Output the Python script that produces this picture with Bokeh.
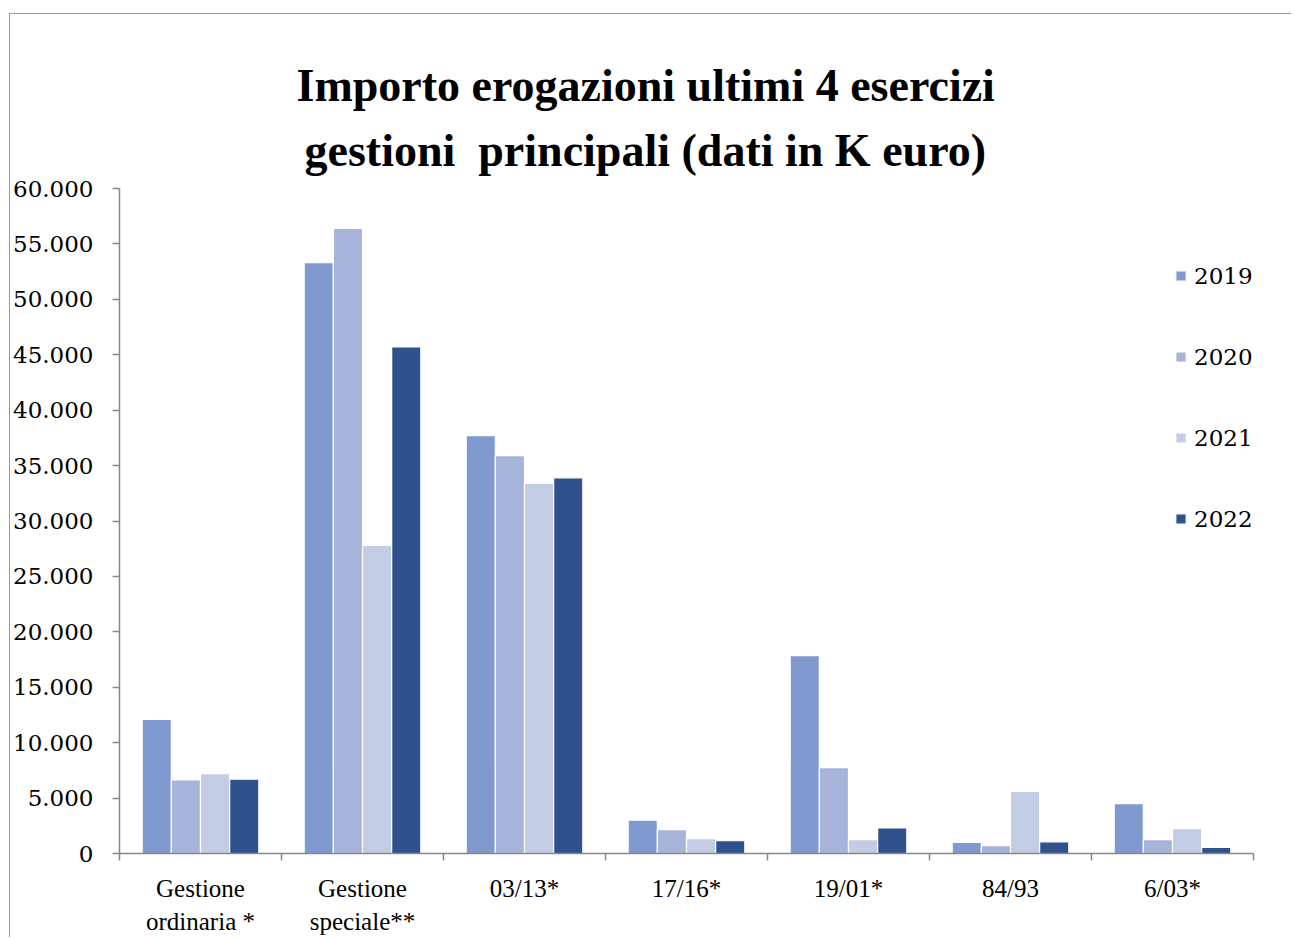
from bokeh.plotting import figure
from bokeh.models import FixedTicker, Legend, LegendItem, Title, ColumnDataSource
from bokeh.embed import file_html
from bokeh.resources import INLINE

categories = ["Gestione\nordinaria *", "Gestione\nspeciale**", "03/13*", "17/16*", "19/01*", "84/93", "6/03*"]
years = ["2019", "2020", "2021", "2022"]
v2019 = [12100, 53300, 37700, 3000, 17850, 1000, 4500]
v2020 = [6650, 56400, 35900, 2150, 7750, 700, 1250]
v2021 = [7200, 27800, 33400, 1350, 1250, 5600, 2250]
v2022 = [6700, 45700, 33900, 1150, 2300, 1050, 550]
y_ticks = [0, 5000, 10000, 15000, 20000, 25000, 30000, 35000, 40000, 45000, 50000, 55000, 60000]
y_tick_labels = ["0", "5.000", "10.000", "15.000", "20.000", "25.000", "30.000",
                 "35.000", "40.000", "45.000", "50.000", "55.000", "60.000"]
colors = ["#8099CE", "#A7B4DA", "#C2CDE5", "#2F518C"]
series = [v2019, v2020, v2021, v2022]

p = figure(width=1282, height=924, x_range=(0, 7), y_range=(0, 60000),
           output_backend="svg", toolbar_location=None,
           min_border_left=109, min_border_right=39, min_border_top=174, min_border_bottom=84)
p.styles = {"border-top": "1px solid #999999", "border-left": "1px solid #999999",
            "margin-top": "13px", "margin-left": "9px"}
p.outline_line_color = None
p.xgrid.visible = False
p.ygrid.visible = False

n = len(categories)
width = 0.18
offsets = [(-1.5 + j) * width for j in range(len(years))]
renderers = []
for j, (yr, vals) in enumerate(zip(years, series)):
    src = ColumnDataSource(dict(x=[i + 0.5 + offsets[j] for i in range(n)], top=vals))
    r = p.vbar(x="x", top="top", width=width, source=src, fill_color=colors[j],
               line_color="white", line_width=1.2)
    renderers.append(r)

# y axis
ya = p.yaxis[0]
ya.ticker = FixedTicker(ticks=y_ticks)
ya.major_label_overrides = {t: l for t, l in zip(y_ticks, y_tick_labels)}
ya.axis_line_color = "#888888"
ya.axis_line_width = 1.5
ya.major_tick_line_color = "#888888"
ya.major_tick_line_width = 1.5
ya.major_tick_out = 7
ya.major_tick_in = 0
ya.minor_tick_line_color = None
ya.major_label_standoff = 19
ya.major_label_text_font = "DejaVu Serif"
ya.major_label_text_font_size = "23px"
ya.major_label_text_color = "#000000"

# x axis
xa = p.xaxis[0]
xa.ticker = FixedTicker(ticks=[i + 0.5 for i in range(n)], minor_ticks=list(range(n + 1)))
xa.major_label_overrides = {i + 0.5: c for i, c in enumerate(categories)}
xa.axis_line_color = "#888888"
xa.axis_line_width = 1.5
xa.major_tick_line_color = None
xa.major_tick_out = 0
xa.major_tick_in = 0
xa.minor_tick_line_color = "#888888"
xa.minor_tick_line_width = 1.5
xa.minor_tick_out = 7
xa.minor_tick_in = 0
xa.major_label_standoff = 14
xa.major_label_text_font = "Liberation Serif"
xa.major_label_text_font_size = "25px"
xa.major_label_text_line_height = 1.25
xa.major_label_text_color = "#000000"

# title (two lines)
p.title.visible = False
t2 = Title(text="gestioni\u00a0 principali (dati in K euro)", align="left", offset=185,
           text_font="Liberation Serif", text_font_style="bold", text_font_size="46px",
           text_color="#000000", standoff=25)
t1 = Title(text="Importo erogazioni ultimi 4 esercizi", align="left", offset=177,
           text_font="Liberation Serif", text_font_style="bold", text_font_size="46px",
           text_color="#000000", standoff=0)
p.add_layout(t2, "above")
p.add_layout(t1, "above")

legend = Legend(items=[LegendItem(label=y, renderers=[r]) for y, r in zip(years, renderers)],
                location=(1055, 321), glyph_width=13, glyph_height=13, label_height=27,
                label_standoff=7, spacing=54, padding=0, margin=0,
                border_line_alpha=0, background_fill_alpha=0,
                label_text_font="DejaVu Serif", label_text_font_size="23px",
                label_text_color="#000000")
p.add_layout(legend)

open("out.html", "w").write(file_html(p, INLINE))
